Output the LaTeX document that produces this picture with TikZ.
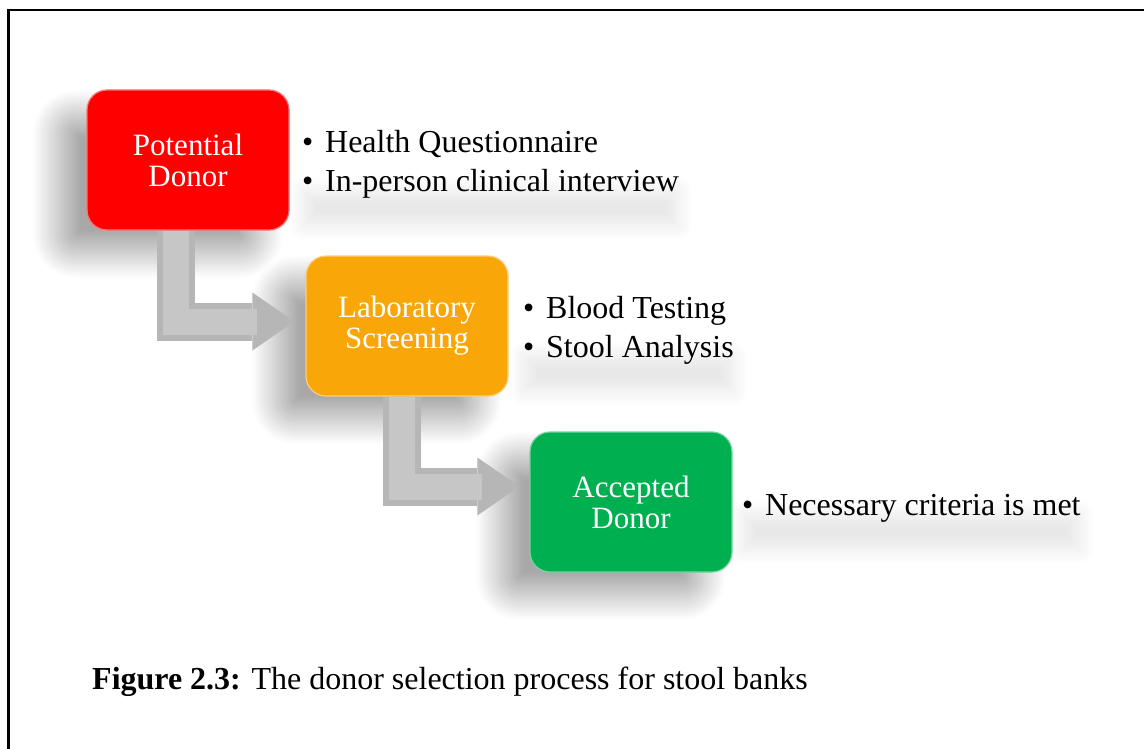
\documentclass[tikz,border=0pt]{standalone}
\usepackage{fontspec}
\setmainfont{Liberation Serif}
\usetikzlibrary{arrows.meta,shadows.blur}

\definecolor{donorred}{RGB}{255,0,0}
\definecolor{laborange}{RGB}{249,166,8}
\definecolor{acceptgreen}{RGB}{0,176,80}
\definecolor{arrowgray}{RGB}{182,182,182}
\definecolor{arrowlight}{RGB}{198,198,198}

\pgfdeclarelayer{shadows}
\pgfdeclarelayer{connectors}
\pgfsetlayers{shadows,connectors,main}

\newcommand\itembullet{\makebox[23pt][l]{\textbullet}}

\begin{document}
\begin{tikzpicture}[x=1pt,y=-1pt,
  stagebox/.style={rounded corners=20pt, minimum width=202pt, minimum height=140pt,
    inner sep=0pt, align=center, text=white, line width=1.2pt,
    font=\fontsize{31}{31}\selectfont},
  boxshade/.style={rounded corners=20pt,
    blur shadow={shadow xshift=-30pt, shadow yshift=-24pt,
      shadow blur radius=24pt, shadow blur steps=40, shadow opacity=34}},
  textshade/.style={
    blur shadow={shadow xshift=0pt, shadow yshift=-22pt,
      shadow blur radius=14pt, shadow blur steps=30, shadow opacity=9}},
  itemline/.style={anchor=base west, inner sep=0pt,
    font=\fontsize{32}{39}\selectfont},
  flowarrow/.style={line width=38pt, draw=arrowgray,
    -{Triangle[width=58pt,length=42pt,line width=0pt]}},
  arrowbevel/.style={line width=26pt, draw=arrowlight}
]
\useasboundingbox (0,0) rectangle (1144,749);

% frame lines along the top and left
\draw[line width=2.8pt] (8.7,749) -- (8.7,10) -- (1144,10);

% process stages
\node[stagebox, fill=donorred, draw=donorred!55!white] (pd) at (188,160) {Potential\\Donor};
\node[stagebox, fill=laborange, draw=laborange!55!white] (ls) at (407,326) {Laboratory\\Screening};
\node[stagebox, fill=acceptgreen, draw=acceptgreen!55!white] (ad) at (631,502) {Accepted\\Donor};

% details of each stage
\node[itemline] (hq) at (302,153) {\itembullet Health Questionnaire};
\node[itemline] (ci) at (302,192) {\itembullet In-person clinical interview};
\node[itemline] (bt) at (523,318) {\itembullet Blood Testing};
\node[itemline] (sa) at (523,357) {\itembullet Stool Analysis};
\node[itemline] (nc) at (742,515) {\itembullet Necessary criteria is met};

% soft shadows under boxes and lists
\begin{pgfonlayer}{shadows}
  \foreach \b in {pd,ls,ad}
    \path[boxshade] (\b.south west) rectangle (\b.north east);
  \foreach \t in {ci,sa,nc}
    \path[textshade] ([yshift=-6pt]\t.south west) rectangle ([yshift=2pt]\t.north east);
\end{pgfonlayer}

% elbow arrows between stages
\begin{pgfonlayer}{connectors}
  \draw[flowarrow] ([xshift=90pt]pd.south west) |- ([xshift=-11pt,yshift=4.5pt]ls.west);
  \draw[arrowbevel] ([xshift=90pt]pd.south west) |- ([xshift=-48pt,yshift=4.5pt]ls.west);
  \draw[flowarrow] ([xshift=97pt]ls.south west) |- ([xshift=-10pt,yshift=15.5pt]ad.west);
  \draw[arrowbevel] ([xshift=97pt]ls.south west) |- ([xshift=-47pt,yshift=15.5pt]ad.west);
\end{pgfonlayer}

% caption
\node[itemline] (cap) at (92,689) {\textbf{Figure 2.3:} The donor selection process for stool banks};
\end{tikzpicture}
\end{document}
